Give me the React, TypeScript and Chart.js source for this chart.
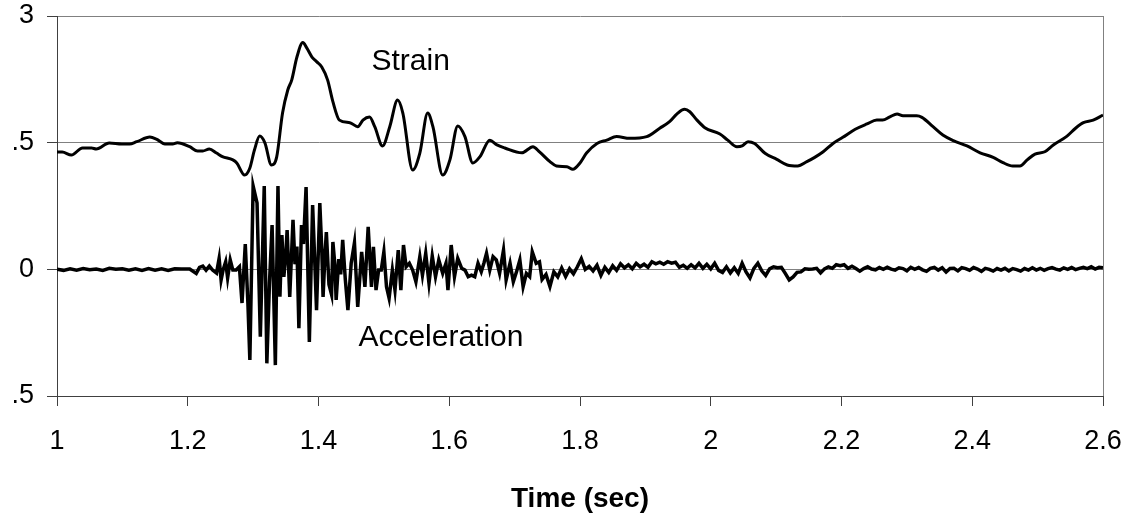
import React, { useEffect, useRef } from "react";
import { Chart, registerables } from "chart.js";

Chart.register(...registerables);

// ---------- Data ----------
const strainTime = [
  1.000, 1.008, 1.022, 1.039, 1.053, 1.060, 1.080, 1.099, 1.111, 1.122,
  1.142, 1.152, 1.165, 1.177, 1.184, 1.203, 1.215, 1.223, 1.233, 1.244,
  1.253, 1.269, 1.275, 1.287, 1.295, 1.302, 1.310, 1.318, 1.328, 1.336,
  1.345, 1.353, 1.359, 1.367, 1.376, 1.382, 1.390, 1.397, 1.405, 1.414,
  1.422, 1.432, 1.448, 1.460, 1.468, 1.478, 1.486, 1.498, 1.509, 1.521,
  1.529, 1.544, 1.555, 1.567, 1.575, 1.590, 1.601, 1.613, 1.624, 1.636,
  1.647, 1.662, 1.673, 1.685, 1.711, 1.728, 1.738, 1.754, 1.764, 1.780,
  1.789, 1.800, 1.810, 1.826, 1.841, 1.856, 1.876, 1.902, 1.922, 1.937,
  1.948, 1.960, 1.968, 1.979, 1.991, 2.014, 2.026, 2.040, 2.048, 2.057,
  2.067, 2.083, 2.101, 2.117, 2.133, 2.147, 2.159, 2.172, 2.187, 2.202,
  2.221, 2.239, 2.254, 2.263, 2.274, 2.285, 2.294, 2.315, 2.323, 2.340,
  2.355, 2.371, 2.392, 2.412, 2.432, 2.447, 2.462, 2.473, 2.484, 2.496,
  2.511, 2.524, 2.545, 2.558, 2.570, 2.585, 2.600,
];
const strainValue = [
  0.463, 0.463, 0.451, 0.479, 0.479, 0.475, 0.499, 0.495, 0.495, 0.504,
  0.522, 0.514, 0.495, 0.495, 0.500, 0.484, 0.467, 0.467, 0.475, 0.459,
  0.445, 0.432, 0.420, 0.372, 0.400, 0.471, 0.526, 0.499, 0.412, 0.443,
  0.617, 0.708, 0.747, 0.838, 0.895, 0.874, 0.838, 0.820, 0.799, 0.747,
  0.662, 0.589, 0.579, 0.563, 0.589, 0.601, 0.563, 0.487, 0.563, 0.668,
  0.617, 0.392, 0.459, 0.617, 0.563, 0.372, 0.432, 0.566, 0.524, 0.420,
  0.445, 0.510, 0.491, 0.479, 0.460, 0.484, 0.464, 0.425, 0.408, 0.405,
  0.395, 0.420, 0.459, 0.497, 0.510, 0.524, 0.517, 0.524, 0.557, 0.583,
  0.613, 0.632, 0.622, 0.589, 0.559, 0.534, 0.510, 0.484, 0.487, 0.504,
  0.497, 0.458, 0.434, 0.412, 0.408, 0.425, 0.442, 0.464, 0.497, 0.521,
  0.553, 0.574, 0.589, 0.589, 0.602, 0.613, 0.606, 0.606, 0.600, 0.563,
  0.530, 0.508, 0.487, 0.460, 0.442, 0.421, 0.408, 0.408, 0.432, 0.455,
  0.464, 0.491, 0.526, 0.557, 0.579, 0.589, 0.609,
];

// acceleration: quiet start
const accelPreTime = [
  1.000, 1.010, 1.020, 1.030, 1.040, 1.050, 1.060, 1.070, 1.080, 1.090,
  1.100, 1.110, 1.120, 1.130, 1.140, 1.150, 1.160, 1.170, 1.180,
];
const accelPreValue = [
  0.000, -0.004, 0.002, -0.003, 0.003, -0.002, 0.001, -0.004, 0.004, 0.000,
  0.002, -0.003, 0.002, -0.004, 0.003, -0.003, 0.002, -0.004, 0.002,
];
// acceleration: strong shaking
const accelStrongTime = [
  1.190, 1.203, 1.213, 1.218, 1.223, 1.228, 1.233, 1.238, 1.244, 1.248,
  1.251, 1.254, 1.258, 1.261, 1.265, 1.269, 1.274, 1.279, 1.283, 1.288,
  1.292, 1.295, 1.300, 1.306, 1.311, 1.317, 1.321, 1.325, 1.329, 1.334,
  1.338, 1.341, 1.344, 1.347, 1.350, 1.352, 1.356, 1.361, 1.364, 1.367,
  1.370, 1.374, 1.377, 1.381, 1.386, 1.391, 1.394, 1.397, 1.402, 1.405,
  1.407, 1.410, 1.412, 1.416, 1.420, 1.422, 1.425, 1.427, 1.431, 1.434,
  1.437, 1.441, 1.445,
];
const accelStrongValue = [
  0.001, 0.001, -0.016, 0.008, 0.013, -0.003, 0.013, -0.003, -0.015, 0.043,
  -0.042, -0.003, 0.030, -0.034, 0.037, -0.003, -0.003, 0.010, -0.133, 0.100,
  -0.134, -0.358, 0.329, 0.262, -0.266, 0.329, -0.371, -0.054, 0.175, -0.378,
  0.329, -0.108, 0.135, -0.030, 0.060, 0.155, -0.109, 0.195, 0.020, 0.090,
  -0.232, 0.175, 0.100, 0.325, -0.287, 0.254, 0.050, -0.161, 0.262, 0.080,
  -0.109, 0.060, 0.147, -0.060, -0.100, 0.108, 0.020, -0.121, 0.040, -0.020,
  0.116, -0.040, -0.161,
];
// acceleration: decaying coda
const accelCodaTime = [
  1.450, 1.455, 1.460, 1.466, 1.471, 1.476, 1.481, 1.484, 1.488, 1.492,
  1.496, 1.500, 1.504, 1.508, 1.513, 1.517, 1.522, 1.526, 1.530, 1.534,
  1.539, 1.544, 1.549, 1.555, 1.559, 1.564, 1.569, 1.574, 1.579, 1.584,
  1.590, 1.595, 1.598, 1.603, 1.608, 1.613, 1.619, 1.624, 1.629, 1.634,
  1.639, 1.644, 1.649, 1.653, 1.657, 1.662, 1.667, 1.672, 1.677, 1.683,
  1.687, 1.693, 1.698, 1.703, 1.708, 1.713, 1.718, 1.723, 1.727, 1.733,
  1.738,
];
const accelCodaValue = [
  0.024, 0.105, -0.148, 0.069, -0.069, 0.168, -0.069, 0.089, -0.082, -0.003,
  -0.003, 0.069, -0.069, -0.114, -0.003, -0.082, 0.076, -0.082, 0.096, 0.010,
  0.024, -0.003, -0.049, 0.050, -0.023, 0.063, -0.055, 0.053, -0.029, 0.037,
  -0.016, 0.024, -0.082, 0.096, -0.029, 0.043, 0.004, -0.003, -0.029, -0.023,
  -0.029, 0.024, -0.009, 0.024, 0.063, -0.003, 0.050, 0.037, -0.016, 0.076,
  -0.042, 0.024, -0.049, -0.009, 0.037, -0.069, -0.016, -0.029, 0.069, 0.024,
  0.030,
];
// acceleration: quiet tail
const accelTailTime = [
  1.742, 1.748, 1.754, 1.760, 1.766, 1.772, 1.778, 1.784, 1.790, 1.796,
  1.802, 1.808, 1.814, 1.820, 1.826, 1.832, 1.838, 1.844, 1.850, 1.856,
  1.862, 1.868, 1.874, 1.880, 1.886, 1.892, 1.898, 1.904, 1.910, 1.916,
  1.922, 1.928, 1.934, 1.940, 1.946, 1.952, 1.958, 1.964, 1.970, 1.976,
  1.982, 1.988, 1.994, 2.000, 2.006, 2.012, 2.018, 2.024, 2.030, 2.036,
  2.042, 2.048, 2.054, 2.060, 2.066, 2.072, 2.078, 2.084, 2.090, 2.096,
  2.102, 2.108, 2.114, 2.120, 2.126, 2.132, 2.138, 2.144, 2.150, 2.156,
  2.162, 2.168, 2.174, 2.180, 2.186, 2.192, 2.198, 2.204, 2.210, 2.216,
  2.222, 2.228, 2.234, 2.240, 2.246, 2.252, 2.258, 2.264, 2.270, 2.276,
  2.282, 2.288, 2.294, 2.300, 2.306, 2.312, 2.318, 2.324, 2.330, 2.336,
  2.342, 2.348, 2.354, 2.360, 2.366, 2.372, 2.378, 2.384, 2.390, 2.396,
  2.402, 2.408, 2.414, 2.420, 2.426, 2.432, 2.438, 2.444, 2.450, 2.456,
  2.462, 2.468, 2.474, 2.480, 2.486, 2.492, 2.498, 2.504, 2.510, 2.516,
  2.522, 2.528, 2.534, 2.540, 2.546, 2.552, 2.558, 2.564, 2.570, 2.576,
  2.582, 2.588, 2.594, 2.600,
];
const accelTailValue = [
  -0.040, -0.020, -0.068, -0.010, -0.030, 0.005, -0.028, 0.002, -0.018, 0.010,
  0.042, 0.000, 0.012, -0.006, 0.016, -0.024, 0.008, -0.012, 0.014, -0.004,
  0.022, 0.006, 0.018, 0.002, 0.024, 0.010, 0.020, 0.008, 0.030, 0.022,
  0.028, 0.020, 0.030, 0.024, 0.028, 0.008, 0.016, 0.004, 0.018, 0.006,
  0.024, 0.004, 0.020, 0.002, 0.024, -0.004, -0.012, 0.010, -0.014, 0.006,
  -0.016, 0.024, -0.010, -0.034, 0.004, 0.024, -0.006, -0.024, 0.002, 0.010,
  0.006, 0.008, -0.016, -0.042, -0.030, -0.012, -0.010, 0.002, 0.000, 0.001,
  0.004, -0.014, 0.002, 0.010, 0.004, 0.018, 0.014, 0.018, 0.004, 0.012,
  0.003, -0.007, 0.003, 0.010, 0.001, -0.002, 0.007, 0.000, 0.008, 0.001,
  -0.003, 0.006, 0.003, -0.006, 0.008, 0.000, 0.007, -0.002, -0.008, 0.004,
  0.008, -0.003, 0.006, -0.011, 0.003, 0.004, -0.006, 0.007, 0.003, -0.004,
  0.007, 0.001, -0.008, 0.004, 0.000, -0.007, 0.003, -0.003, 0.004, -0.006,
  0.003, -0.001, -0.007, 0.003, -0.003, 0.006, -0.003, 0.004, -0.004, 0.003,
  0.007, 0.001, -0.003, 0.006, 0.000, 0.007, -0.001, 0.004, 0.008, 0.003,
  0.010, 0.001, 0.008, 0.006,
];

const xTickValues = [1, 1.2, 1.4, 1.6, 1.8, 2, 2.2, 2.4, 2.6];
const xTickLabels = ["1", "1.2", "1.4", "1.6", "1.8", "2", "2.2", "2.4", "2.6"];
const yTickValues = [-0.5, 0, 0.5, 1];
const yTickLabels = [".5", "0", ".5", "3"];
const xTitle = "Time (sec)";

const annotationTexts = ["Strain", "Acceleration"];
const annotationTime = [1.481, 1.461];
const annotationValue = [0.787, -0.303];

// ---------- Chart ----------
const FONT = "'Liberation Sans', Arial, sans-serif";

function zip(t: number[], v: number[]) {
  return t.map((x, i) => ({ x, y: v[i] }));
}

function labelFor(values: number[], labels: string[], v: number) {
  const i = values.findIndex((u) => Math.abs(u - v) < 1e-6);
  return i >= 0 ? labels[i] : "";
}

const framePlugin = {
  id: "frame",
  beforeDatasetsDraw(chart: any) {
    const { ctx, chartArea } = chart;
    ctx.save();
    ctx.strokeStyle = "#808080";
    ctx.lineWidth = 1;
    ctx.beginPath();
    const x = Math.round(chartArea.right) + 0.5;
    ctx.moveTo(x, chartArea.top);
    ctx.lineTo(x, chartArea.bottom);
    ctx.stroke();
    ctx.restore();
  },
};

const annotationPlugin = {
  id: "annotations",
  afterDatasetsDraw(chart: any) {
    const { ctx, scales } = chart;
    ctx.save();
    ctx.fillStyle = "#000";
    ctx.font = `30px ${FONT}`;
    ctx.textAlign = "left";
    ctx.textBaseline = "alphabetic";
    annotationTexts.forEach((txt, i) => {
      const px = scales.x.getPixelForValue(annotationTime[i]);
      const py = scales.y.getPixelForValue(annotationValue[i]);
      ctx.fillText(txt, px, py);
    });
    ctx.restore();
  },
};

export default function App() {
  const ref = useRef<HTMLCanvasElement | null>(null);

  useEffect(() => {
    if (!ref.current) return;
    const accel = [
      ...zip(accelPreTime, accelPreValue),
      ...zip(accelStrongTime, accelStrongValue),
      ...zip(accelCodaTime, accelCodaValue),
      ...zip(accelTailTime, accelTailValue),
    ];
    const chart = new Chart(ref.current, {
      type: "scatter",
      data: {
        datasets: [
          {
            label: "Strain",
            data: zip(strainTime, strainValue),
            showLine: true,
            borderColor: "#000",
            borderWidth: 3,
            pointRadius: 0,
            cubicInterpolationMode: "monotone",
            fill: false,
          },
          {
            label: "Acceleration",
            data: accel,
            showLine: true,
            borderColor: "#000",
            borderWidth: 3.5,
            pointRadius: 0,
            tension: 0,
            fill: false,
          },
        ],
      },
      options: {
        animation: false,
        responsive: false,
        devicePixelRatio: 1,
        layout: { padding: { top: 16, right: 29, left: 0, bottom: 0 } },
        plugins: {
          legend: { display: false },
          tooltip: { enabled: false },
        },
        scales: {
          x: {
            type: "linear",
            min: 1,
            max: 2.6,
            afterBuildTicks: (s: any) => {
              s.ticks = xTickValues.map((value) => ({ value }));
            },
            afterFit: (s: any) => {
              s.height = 121;
              s.paddingLeft = 0;
              s.paddingRight = 0;
            },
            ticks: {
              autoSkip: false,
              maxRotation: 0,
              color: "#000",
              padding: 19,
              font: { family: FONT, size: 27 },
              callback: (v: any) => labelFor(xTickValues, xTickLabels, Number(v)),
            },
            grid: {
              drawOnChartArea: false,
              drawTicks: true,
              tickLength: 10,
              color: "#404040",
            },
            border: { color: "#404040", width: 1 },
            title: {
              display: true,
              text: xTitle,
              color: "#000",
              font: { family: FONT, size: 28, weight: "bold" },
              padding: { top: 14, bottom: 1 },
            },
          },
          y: {
            type: "linear",
            min: -0.5,
            max: 1,
            afterBuildTicks: (s: any) => {
              s.ticks = yTickValues.map((value) => ({ value }));
            },
            afterFit: (s: any) => {
              s.width = 57;
              s.paddingTop = 0;
              s.paddingBottom = 0;
            },
            ticks: {
              color: "#000",
              padding: 13,
              font: { family: FONT, size: 27 },
              callback: (v: any) => labelFor(yTickValues, yTickLabels, Number(v)),
            },
            grid: {
              color: (c: any) =>
                c.tick && c.tick.value === -0.5 ? "rgba(0,0,0,0)" : "#808080",
              tickColor: "#404040",
              tickLength: 10,
              lineWidth: 1,
            },
            border: { color: "#404040", width: 1 },
          },
        },
      },
      plugins: [framePlugin, annotationPlugin],
    } as any);
    return () => chart.destroy();
  }, []);

  return (
    <div
      style={{
        position: "fixed",
        left: 0,
        top: 0,
        width: 1132,
        height: 517,
        background: "#fff",
      }}
    >
      <canvas ref={ref} width={1132} height={517} style={{ display: "block" }} />
    </div>
  );
}
